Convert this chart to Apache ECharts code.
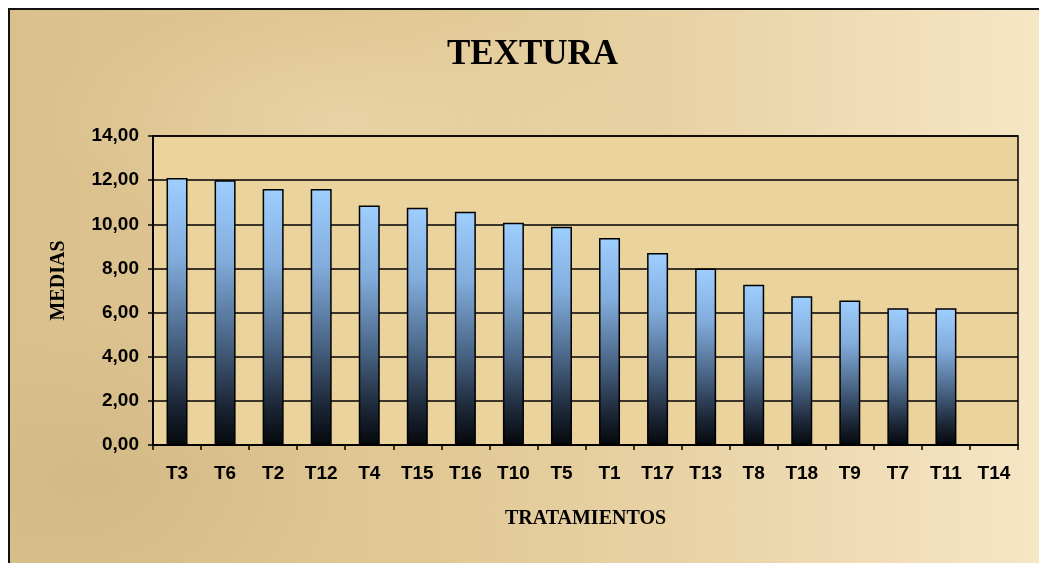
<!DOCTYPE html>
<html>
<head>
<meta charset="utf-8">
<script src="https://cdn.jsdelivr.net/npm/echarts@6/dist/echarts.min.js"></script>
<style>
  html, body { margin: 0; padding: 0; background: #fff; overflow: hidden; }
  #frame {
    position: absolute; left: 8px; top: 8px; width: 1100px; height: 620px;
    border: 2px solid #111;
    background:
      radial-gradient(ellipse 260px 160px at 90px 470px, rgba(196,170,120,0.35), rgba(196,170,120,0) 100%),
      radial-gradient(ellipse 300px 120px at 330px 110px, rgba(245,225,185,0.45), rgba(245,225,185,0) 100%),
      linear-gradient(90deg, #d9c08c 0%, #e0c793 35%, #e8d2a4 60%, #f3e1bd 85%, #f8eacb 100%);
  }
  #chart { position: absolute; left: 0; top: 0; width: 1039px; height: 563px; }
</style>
</head>
<body>
<div id="frame"></div>
<div id="chart"></div>
<script>
// tratamientos ordenados por media
var categories = ["T3", "T6", "T2", "T12", "T4", "T15", "T16", "T10", "T5", "T1", "T17", "T13", "T8", "T18", "T9", "T7", "T11", "T14"];
var medias = [12.1, 12.0, 11.6, 11.6, 10.85, 10.75, 10.57, 10.07, 9.89, 9.38, 8.7, 8.0, 7.26, 6.74, 6.55, 6.2, 6.2, 0];

var chart = echarts.init(document.getElementById("chart"), null, { renderer: "canvas" });

var option = {
  backgroundColor: "transparent",
  animation: false,
  title: {
    text: "TEXTURA",
    left: 442,
    top: 32,
    textStyle: {
      fontFamily: "Liberation Serif",
      fontWeight: "bold",
      fontSize: 35,
      color: "#000"
    }
  },
  grid: {
    left: 153,
    right: 21,
    top: 136,
    bottom: 118,
    show: true,
    backgroundColor: "#ebd39d",
    borderColor: "#000",
    borderWidth: 1.5
  },
  xAxis: {
    type: "category",
    data: categories,
    name: "TRATAMIENTOS",
    nameLocation: "middle",
    nameGap: 64,
    nameTextStyle: {
      fontFamily: "Liberation Serif",
      fontWeight: "bold",
      fontSize: 20,
      color: "#000"
    },
    axisLine: { lineStyle: { color: "#000", width: 2 } },
    axisTick: { show: true, length: 5, lineStyle: { color: "#000", width: 1.5 } },
    axisLabel: {
      margin: 19,
      fontFamily: "Liberation Sans",
      fontWeight: "bold",
      fontSize: 19,
      color: "#000",
      interval: 0
    }
  },
  yAxis: {
    type: "value",
    min: 0,
    max: 14,
    interval: 2,
    name: "MEDIAS",
    nameLocation: "middle",
    nameRotate: 90,
    nameGap: 84,
    nameTextStyle: {
      fontFamily: "Liberation Serif",
      fontWeight: "bold",
      fontSize: 20,
      color: "#000",
      padding: [0, 0, 0, 20]
    },
    axisLine: { show: true, lineStyle: { color: "#000", width: 2 } },
    axisTick: { show: true, length: 5, lineStyle: { color: "#000", width: 1.5 } },
    splitLine: { show: true, lineStyle: { color: "#000", width: 1.5 } },
    axisLabel: {
      margin: 14,
      fontFamily: "Liberation Sans",
      fontWeight: "bold",
      fontSize: 19,
      color: "#000",
      formatter: function (v) { return v.toFixed(2).replace(".", ","); }
    }
  },
  series: [
    {
      type: "bar",
      data: medias,
      barWidth: 21,
      itemStyle: {
        color: new echarts.graphic.LinearGradient(0, 0, 0, 1, [
          { offset: 0, color: "#9ecfff" },
          { offset: 0.3, color: "#82acdb" },
          { offset: 0.6, color: "#4a6687" },
          { offset: 0.85, color: "#1c2636" },
          { offset: 1, color: "#05080c" }
        ]),
        borderColor: "#000",
        borderWidth: 1.5
      }
    }
  ]
};

chart.setOption(option);
</script>
</body>
</html>
